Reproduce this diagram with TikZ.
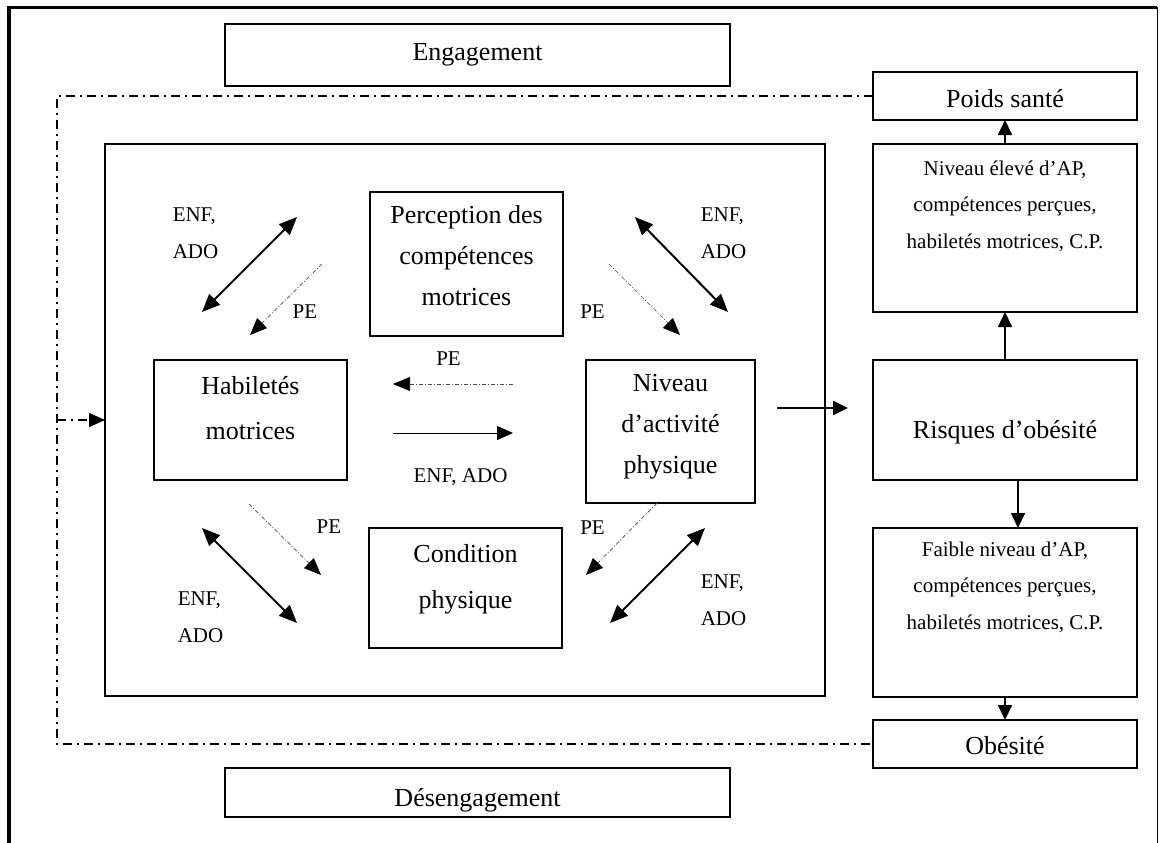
\documentclass[tikz,border=0pt]{standalone}
\usepackage{fontspec}
\setmainfont{Liberation Serif}
\usetikzlibrary{arrows.meta}
\begin{document}
\begin{tikzpicture}[x=1pt,y=-1pt,
 box/.style={draw, line width=1.8pt, inner sep=0pt, outer sep=0pt},
 big/.style={font=\fontsize{26}{41}\selectfont, align=center, inner sep=0pt},
 small/.style={font=\fontsize{21}{36.5}\selectfont, align=center, inner sep=0pt},
 lab/.style={font=\fontsize{21}{37}\selectfont, align=left, inner sep=0pt},
 dbl/.style={line width=2pt, {Triangle[length=18pt,width=15pt]}-{Triangle[length=18pt,width=15pt]}},
 pe/.style={line width=0.7pt, black!70, dash pattern=on 4pt off 2pt on 1pt off 2pt, -{Triangle[length=17pt,width=14pt,color=black]}},
 flow/.style={line width=1.8pt, -{Triangle[length=15pt,width=14pt]}},
 thinarrow/.style={line width=1pt, -{Triangle[length=16pt,width=14pt]}},
 dd/.style={line width=1.6pt, dash pattern=on 9pt off 5pt on 2pt off 5pt},
]
\useasboundingbox (0,0) rectangle (1160,843);
\fill[white] (0,0) rectangle (1160,843);

% outer frame
\draw[line width=3.5pt, line join=miter] (8.75,843) -- (8.75,7.75) -- (1157,7.75);
\draw[line width=1pt] (1157,7) -- (1157,843);

% top and bottom boxes
\node[box, big, minimum width=505pt, minimum height=62pt] (eng) at (477.5,55) {Engagement};
\node[box, minimum width=505pt, minimum height=49pt] (des) at (477.5,792.5) {};
\node[big] (des-t) at (477.5,800) {Désengagement};

% right column
\node[box, minimum width=264pt, minimum height=48pt] (poids) at (1005,96) {};
\node[big] (poids-t) at (1005,99) {Poids santé};
\node[box, minimum width=264pt, minimum height=168pt] (haut) at (1005,228) {};
\node[small] (haut-t) at (1005,206) {Niveau élevé d’AP,\\compétences perçues,\\habiletés motrices, C.P.};
\node[box, minimum width=264pt, minimum height=120pt] (risq) at (1005,420) {};
\node[big] (risq-t) at (1005,432) {Risques d’obésité};
\node[box, minimum width=264pt, minimum height=169pt] (faib) at (1005,612.5) {};
\node[small] (faib-t) at (1005,587) {Faible niveau d’AP,\\compétences perçues,\\habiletés motrices, C.P.};
\node[box, minimum width=264pt, minimum height=48pt] (obes) at (1005,744) {};
\node[big] (obes-t) at (1005,746) {Obésité};

\draw[flow] (haut.north) -- (poids.south);
\draw[flow] (risq.north) -- (haut.south);
\draw[flow] ([xshift=13pt]risq.south) -- ([xshift=13pt]faib.north);
\draw[flow] (faib.south) -- (obes.north);

% inner frame
\node[box, line width=2pt, minimum width=720pt, minimum height=552pt] (cadre) at (465,420) {};

% inner boxes
\node[box, minimum width=193pt, minimum height=144pt] (perc) at (466.5,264) {};
\node[big] (perc-t) at (466.5,256) {Perception des\\compétences\\motrices};
\node[box, minimum width=193pt, minimum height=120pt] (hab) at (250.5,420) {};
\node[big] (hab-t) at (250.5,408) {Habiletés\\[4pt]motrices};
\node[box, minimum width=169pt, minimum height=143pt] (niv) at (670.5,431.5) {};
\node[big] (niv-t) at (670.5,427) {Niveau\\d’activité\\physique};
\node[box, minimum width=193pt, minimum height=120pt] (cond) at (465.5,588) {};
\node[big] (cond-t) at (465.5,579) {Condition\\[5pt]physique};

% dash-dot loop
\coordinate (dtl) at (57,96);
\coordinate (dbl) at (57,744);
\coordinate (dmid) at (57,420);
\draw[dd] (poids.west) -- (dtl) -- (dbl) -- (obes.west);
\draw[dd, -{Triangle[length=16pt,width=14pt]}] (dmid) -- (cadre.west);

% niveau -> risques
\coordinate (nr1) at (777,408);
\coordinate (nr2) at (848,408);
\draw[flow] (nr1) -- (nr2);

% top-left
\coordinate (a1) at (202,312); \coordinate (a2) at (297,217);
\draw[dbl] (a1) -- (a2);
\coordinate (b1) at (322,264); \coordinate (b2) at (250,335);
\draw[pe] (b1) -- (b2);
\node[lab] (l1) at (195.5,233.5) {ENF,\\ADO};
\node[lab] (p1) at (305,312) {PE};

% top-right
\coordinate (c1) at (635,217); \coordinate (c2) at (728,312);
\draw[dbl] (c1) -- (c2);
\coordinate (d1) at (609,264); \coordinate (d2) at (680,335);
\draw[pe] (d1) -- (d2);
\node[lab] (l2) at (723.5,233.5) {ENF,\\ADO};
\node[lab] (p2) at (592.5,312) {PE};

% middle
\coordinate (e1) at (513,384); \coordinate (e2) at (393,384);
\draw[pe] (e1) -- (e2);
\node[lab] (p3) at (448.5,359) {PE};
\coordinate (f1) at (393,433); \coordinate (f2) at (513,433);
\draw[thinarrow] (f1) -- (f2);
\node[lab] (l3) at (460.5,477) {ENF, ADO};

% bottom-left
\coordinate (g1) at (249,504); \coordinate (g2) at (321,575);
\draw[pe] (g1) -- (g2);
\coordinate (h1) at (202,528); \coordinate (h2) at (297,623);
\draw[dbl] (h1) -- (h2);
\node[lab] (p4) at (329,527) {PE};
\node[lab] (l4) at (200.5,617) {ENF,\\ADO};

% bottom-right
\coordinate (i1) at (657,503); \coordinate (i2) at (586,575);
\draw[pe] (i1) -- (i2);
\coordinate (j1) at (705,528); \coordinate (j2) at (610,623);
\draw[dbl] (j1) -- (j2);
\node[lab] (p5) at (592.5,528) {PE};
\node[lab] (l5) at (723.5,600) {ENF,\\ADO};
\end{tikzpicture}
\end{document}
